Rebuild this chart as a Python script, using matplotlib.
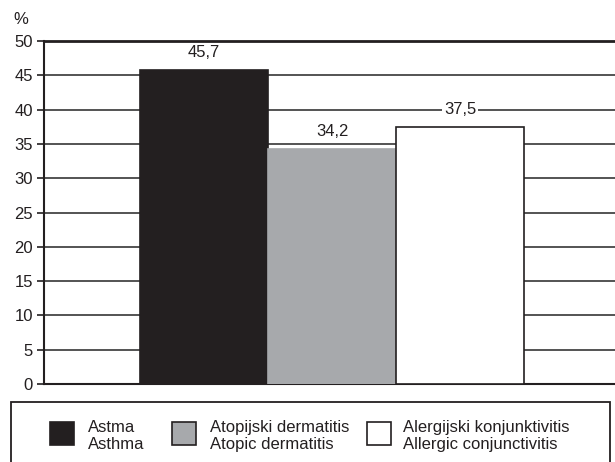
import matplotlib.pyplot as plt
from matplotlib.patches import Rectangle

plt.rcParams['font.family'] = ['Liberation Sans', 'DejaVu Sans']

# data
categories = ['Astma\nAsthma', 'Atopijski dermatitis\nAtopic dermatitis',
              'Alergijski konjunktivitis\nAllergic conjunctivitis']
values = [45.7, 34.2, 37.5]
value_labels = ['45,7', '34,2', '37,5']
y_ticks = [0, 5, 10, 15, 20, 25, 30, 35, 40, 45, 50]

bar_colors = ['#231f20', '#a7a9ac', '#ffffff']
bar_edges = ['#231f20', '#a7a9ac', '#231f20']
dark = '#231f20'

W, H = 615, 462
fig = plt.figure(figsize=(W / 100, H / 100), dpi=100)


def fx(px):
    return px / W


def fy(py):
    return 1 - py / H


ax = fig.add_axes([fx(44), fy(384), fx(615) - fx(44), fy(41) - fy(384)])

x = [0, 1, 2]
ax.bar(x, values, width=1.0, color=bar_colors, edgecolor=bar_edges,
       linewidth=1.2, zorder=3)

for xi, v, lab in zip(x, values, value_labels):
    ax.annotate(lab, (xi, v), xytext=(0, 7.2), textcoords='offset points',
                ha='center', va='bottom', fontsize=12, color=dark, zorder=5,
                bbox=dict(boxstyle='square,pad=0.12', fc='white', ec='none'))

ax.set_xlim(-1.25, 3.21)
ax.set_ylim(0, 50)
ax.set_yticks(y_ticks)
ax.set_xticks([])
ax.tick_params(axis='y', length=5, width=1.2, color=dark, labelsize=12,
               labelcolor=dark, pad=3)
ax.yaxis.grid(True, color='#454545', linewidth=1.3, zorder=0)
ax.set_axisbelow(True)

ax.spines['right'].set_visible(False)
ax.spines['top'].set_linewidth(2.0)
ax.spines['top'].set_color(dark)
ax.spines['left'].set_linewidth(1.5)
ax.spines['left'].set_color(dark)
ax.spines['bottom'].set_linewidth(1.5)
ax.spines['bottom'].set_color(dark)

fig.text(fx(13), fy(20), '%', fontsize=12, color=dark, va='center', ha='left')

# legend box, open at the bottom edge of the figure
fig.add_artist(Rectangle((fx(11), fy(470)), fx(610) - fx(11), fy(402) - fy(470),
                         transform=fig.transFigure, fill=False,
                         edgecolor=dark, linewidth=1.3))

handle_left = [50, 172, 367]
text_left = [88, 210, 403]
for hx, tx, c, lab in zip(handle_left, text_left, bar_colors, categories):
    ec = dark if c != bar_colors[0] else bar_colors[0]
    fig.add_artist(Rectangle((fx(hx), fy(445)), fx(24), fy(0) - fy(23),
                             transform=fig.transFigure, facecolor=c,
                             edgecolor=ec, linewidth=1.2))
    fig.text(fx(tx), fy(436), lab, fontsize=12, color=dark,
             ha='left', va='center', linespacing=1.1)

fig.savefig('out.png', dpi=100)
